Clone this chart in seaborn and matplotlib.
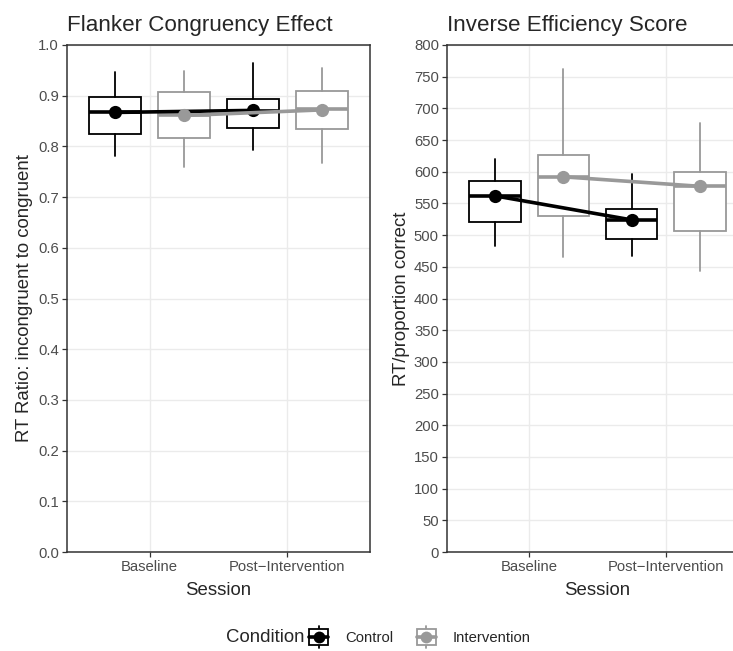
import numpy as np
import pandas as pd
import matplotlib
matplotlib.use('Agg')
import matplotlib.pyplot as plt
import seaborn as sns
from matplotlib.legend_handler import HandlerBase
from matplotlib.patches import Rectangle
from matplotlib.lines import Line2D

# Data
sessions = ['Baseline', 'Post\u2212Intervention']
conditions = ['Control', 'Intervention']

# five-number summaries per session: [lower whisker, Q1, median, Q3, upper whisker]
flanker_control = [[0.782, 0.824, 0.867, 0.897, 0.947],
                   [0.793, 0.836, 0.870, 0.894, 0.964]]
flanker_intervention = [[0.759, 0.817, 0.862, 0.907, 0.949],
                        [0.767, 0.834, 0.873, 0.909, 0.955]]
flanker_control_mean = [0.867, 0.871]
flanker_intervention_mean = [0.861, 0.872]

ies_control = [[483, 521, 562, 585, 620],
               [467, 494, 524, 541, 597]]
ies_intervention = [[466, 530, 592, 626, 762],
                    [444, 506, 577, 600, 677]]
ies_control_mean = [562, 524]
ies_intervention_mean = [592, 577]

colors = {'Control': '#000000', 'Intervention': '#999999'}

sns.set_style("whitegrid")
plt.rcParams['font.family'] = ['Liberation Sans', 'DejaVu Sans']
plt.rcParams['axes.edgecolor'] = '#333333'
plt.rcParams['grid.color'] = '#EBEBEB'
plt.rcParams['grid.linewidth'] = 1.0

W, H = 733, 651
fig = plt.figure(figsize=(W / 100, H / 100), dpi=100)

ax1 = fig.add_axes([67 / W, 1 - 552 / H, 303 / W, 507 / H])
ax2 = fig.add_axes([447 / W, 1 - 552 / H, 301 / W, 507 / H])

dodge = 0.25
box_w = 0.375
s = 1.22  # text scale

def draw_panel(ax, ctrl, intv, ctrl_mean, intv_mean):
    for cond, summ in [('Control', ctrl), ('Intervention', intv)]:
        off = -dodge if cond == 'Control' else dodge
        c = colors[cond]
        stats = [dict(whislo=v[0], q1=v[1], med=v[2], q3=v[3], whishi=v[4],
                      fliers=[]) for v in summ]
        ax.bxp(stats, positions=[i + off for i in range(len(sessions))],
               widths=box_w, patch_artist=True, showfliers=False, showcaps=False,
               manage_ticks=False,
               boxprops=dict(facecolor='white', edgecolor=c, linewidth=1.3),
               whiskerprops=dict(color=c, linewidth=1.3),
               medianprops=dict(color=c, linewidth=2.6, solid_capstyle='butt'))
    rows = []
    for cond, means in [('Control', ctrl_mean), ('Intervention', intv_mean)]:
        off = -dodge if cond == 'Control' else dodge
        for i, m in enumerate(means):
            rows.append({'x': i + off, 'mean': m, 'Condition': cond})
    df = pd.DataFrame(rows)
    sns.lineplot(data=df, x='x', y='mean', hue='Condition', palette=colors,
                 linewidth=2.6, marker='o', markersize=9.5, markeredgewidth=0,
                 legend=False, ax=ax, zorder=4)
    ax.set_xlim(-0.6, len(sessions) - 1 + 0.6)
    ax.set_xticks(range(len(sessions)))
    ax.set_xticklabels(sessions)
    ax.set_xlabel('Session', fontsize=11 * s, labelpad=6)
    ax.tick_params(axis='both', which='major', bottom=True, left=True,
                   length=3.3, width=0.9, color='#333333', pad=2.5,
                   labelsize=8.8 * s, labelcolor='#4D4D4D')
    ax.grid(True, axis='both')
    for sp in ax.spines.values():
        sp.set_color('#333333')
        sp.set_linewidth(1.1)


draw_panel(ax1, flanker_control, flanker_intervention,
           flanker_control_mean, flanker_intervention_mean)
ax1.set_ylim(0, 1)
ax1.set_yticks(np.arange(0, 1.01, 0.1))
ax1.set_yticklabels([f'{v:.1f}' for v in np.arange(0, 1.01, 0.1)])
ax1.set_ylabel('RT Ratio: incongruent to congruent', fontsize=11 * s, labelpad=4)
ax1.set_title('Flanker Congruency Effect', loc='left', fontsize=13.2 * s, pad=10)

draw_panel(ax2, ies_control, ies_intervention,
           ies_control_mean, ies_intervention_mean)
ax2.set_ylim(0, 800)
ax2.set_yticks(np.arange(0, 801, 50))
ax2.set_ylabel('RT/proportion correct', fontsize=11 * s, labelpad=3)
ax2.set_title('Inverse Efficiency Score', loc='left', fontsize=13.2 * s, pad=10)


class BoxKey(HandlerBase):
    def create_artists(self, legend, orig_handle, xdescent, ydescent,
                       width, height, fontsize, trans):
        c = orig_handle.get_color()
        cx = width / 2 - xdescent
        cy = height / 2 - ydescent
        bw, bh = width, height * 0.8
        arts = [
            Line2D([cx, cx], [cy - height / 2, cy + height / 2], color=c, lw=1.3),
            Rectangle((cx - bw / 2, cy - bh / 2), bw, bh, facecolor='white',
                      edgecolor=c, lw=1.3),
            Line2D([cx - bw / 2, cx + bw / 2], [cy, cy], color=c, lw=2.6),
            Line2D([cx], [cy], marker='o', markersize=8.5, color=c, markeredgewidth=0),
        ]
        for a in arts:
            a.set_transform(trans)
        return arts


h_ctrl = Line2D([], [], color=colors['Control'])
h_intv = Line2D([], [], color=colors['Intervention'])
fig.text(265 / W, 1 - 637 / H, 'Condition', fontsize=11 * s, ha='center', va='center')
fig.legend([h_ctrl, h_intv], conditions, handler_map={h_ctrl: BoxKey(), h_intv: BoxKey()},
           loc='center left', bbox_to_anchor=(309 / W, 1 - 637 / H), ncol=2,
           frameon=False, fontsize=8.8 * s, handlelength=1.3, handleheight=1.8,
           handletextpad=1.1, columnspacing=1.6, borderpad=0, borderaxespad=0)

plt.savefig('out.png', dpi=100)
plt.close()
